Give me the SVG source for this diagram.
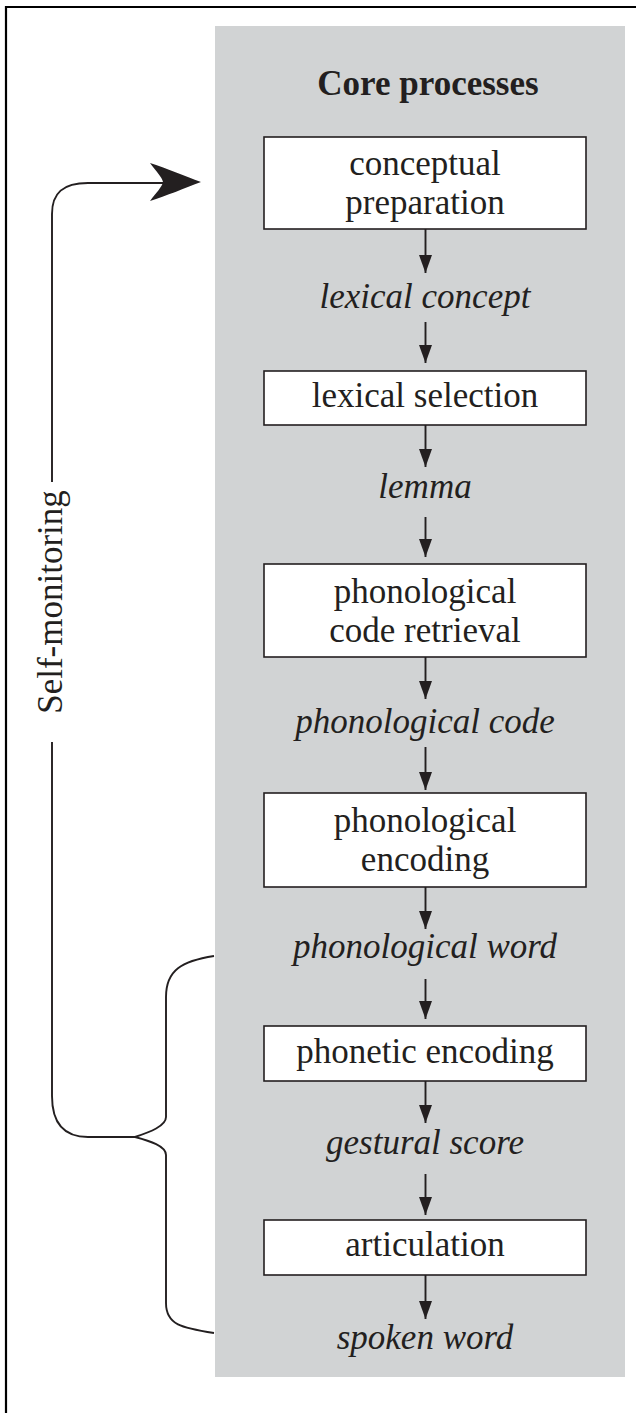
<svg xmlns="http://www.w3.org/2000/svg" width="636" height="1413" viewBox="0 0 636 1413">
  <style>
    .box { fill: #ffffff; stroke: #231f20; stroke-width: 1.6; }
    .lbl { font-family: "Liberation Serif", "Times New Roman", serif; font-size: 35px; fill: #231f20; text-anchor: middle; }
    .it { font-style: italic; }
    .title { font-weight: bold; }
    .conn { fill: none; stroke: #231f20; stroke-width: 1.9; }
    .frame { fill: none; stroke: #000000; stroke-width: 2.2; }
  </style>
  <defs>
    <marker id="ah" viewBox="0 0 18 13" refX="18" refY="6.5" markerWidth="18" markerHeight="13" markerUnits="userSpaceOnUse" orient="auto">
      <path d="M0,0 L18,6.5 L0,13 Z" fill="#231f20"/>
    </marker>
  </defs>

  <!-- frame (top and left edges) -->
  <path class="frame" d="M6,1413 V7 H636"/>

  <!-- core panel -->
  <rect id="panel" x="215" y="26" width="410" height="1351" fill="#d1d3d4"/>
  <text id="title" class="lbl title" x="428" y="95">Core processes</text>

  <g id="node-conceptual-preparation">
    <rect class="box" x="264" y="137" width="322" height="92"/>
    <text class="lbl" x="425" y="175">conceptual</text>
    <text class="lbl" x="425" y="214">preparation</text>
  </g>
  <g id="label-lexical-concept"><text class="lbl it" x="425" y="308">lexical concept</text></g>
  <g id="node-lexical-selection">
    <rect class="box" x="264" y="371" width="322" height="54"/>
    <text class="lbl" x="425" y="407">lexical selection</text>
  </g>
  <g id="label-lemma"><text class="lbl it" x="425" y="498">lemma</text></g>
  <g id="node-phonological-code-retrieval">
    <rect class="box" x="264" y="564" width="322" height="93"/>
    <text class="lbl" x="425" y="603">phonological</text>
    <text class="lbl" x="425" y="642">code retrieval</text>
  </g>
  <g id="label-phonological-code"><text class="lbl it" x="425" y="733">phonological code</text></g>
  <g id="node-phonological-encoding">
    <rect class="box" x="264" y="793" width="322" height="94"/>
    <text class="lbl" x="425" y="832">phonological</text>
    <text class="lbl" x="425" y="871">encoding</text>
  </g>
  <g id="label-phonological-word"><text class="lbl it" x="425" y="958">phonological word</text></g>
  <g id="node-phonetic-encoding">
    <rect class="box" x="264" y="1026" width="322" height="55"/>
    <text class="lbl" x="425" y="1063">phonetic encoding</text>
  </g>
  <g id="label-gestural-score"><text class="lbl it" x="425" y="1154">gestural score</text></g>
  <g id="node-articulation">
    <rect class="box" x="264" y="1220" width="322" height="55"/>
    <text class="lbl" x="425" y="1256">articulation</text>
  </g>
  <g id="label-spoken-word"><text class="lbl it" x="425" y="1349">spoken word</text></g>

  <g id="self-monitoring-label">
    <text class="lbl" transform="translate(62,602) rotate(-90)">Self-monitoring</text>
  </g>

  <g id="connectors">
    <line class="conn" x1="425.5" y1="229" x2="425.5" y2="273" marker-end="url(#ah)"/>
    <line class="conn" x1="425.5" y1="322" x2="425.5" y2="363" marker-end="url(#ah)"/>
    <line class="conn" x1="425.5" y1="425" x2="425.5" y2="467" marker-end="url(#ah)"/>
    <line class="conn" x1="425.5" y1="517" x2="425.5" y2="557" marker-end="url(#ah)"/>
    <line class="conn" x1="425.5" y1="657" x2="425.5" y2="699" marker-end="url(#ah)"/>
    <line class="conn" x1="425.5" y1="747" x2="425.5" y2="790" marker-end="url(#ah)"/>
    <line class="conn" x1="425.5" y1="887" x2="425.5" y2="929" marker-end="url(#ah)"/>
    <line class="conn" x1="425.5" y1="979" x2="425.5" y2="1019" marker-end="url(#ah)"/>
    <line class="conn" x1="425.5" y1="1081" x2="425.5" y2="1123" marker-end="url(#ah)"/>
    <line class="conn" x1="425.5" y1="1174" x2="425.5" y2="1215" marker-end="url(#ah)"/>
    <line class="conn" x1="425.5" y1="1275" x2="425.5" y2="1319" marker-end="url(#ah)"/>

    <!-- brace -->
    <path class="conn" d="M214,956 C182,961 166,970 166,997 V1117 C166,1126 150,1132 135,1137 C150,1141 166,1146 166,1155 V1303 C166,1325 182,1328 214,1333"/>
    <!-- self-monitoring loop -->
    <path class="conn" d="M135,1137 H88 C64,1137 52,1124 52,1096 V742"/>
    <path class="conn" d="M52,482 V214 C52,193 63,183 88,183 H165"/>
    <path d="M201,182 C185,176 166,168 150,163 C156,171 162,177 163,182 C162,187 156,193 150,201 C166,196 185,188 201,182 Z" fill="#231f20"/>
  </g>
</svg>
